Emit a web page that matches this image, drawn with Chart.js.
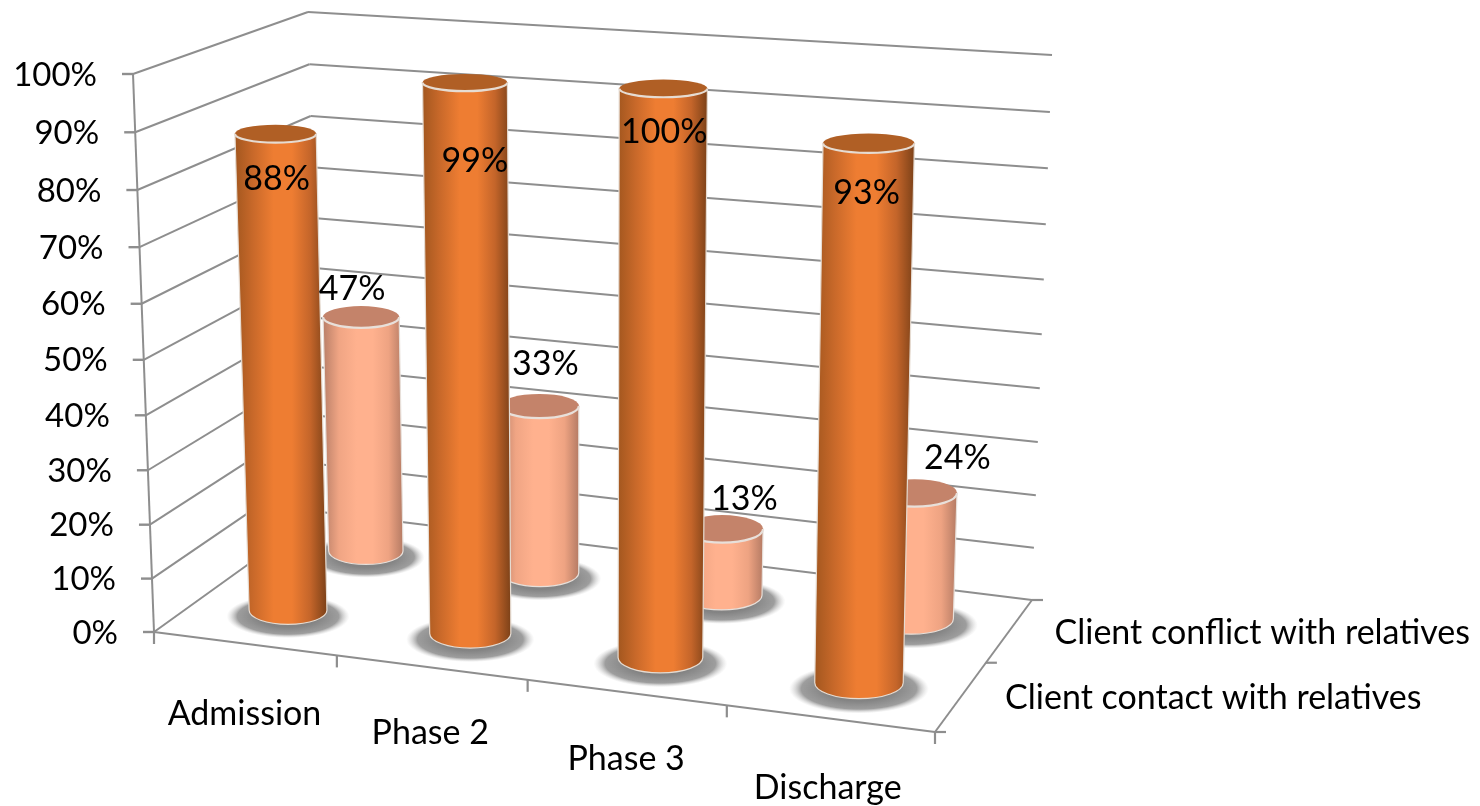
<!DOCTYPE html>
<html>
<head>
<meta charset="utf-8">
<title>Client contact and conflict with relatives</title>
<script src="https://cdn.jsdelivr.net/npm/chart.js@4/dist/chart.umd.min.js"></script>
<style>
    html, body { margin: 0; padding: 0; background: #fff; }
    #wrap { width: 1480px; height: 806px; }
</style>
</head>
<body>
<div id="wrap"><canvas id="cylinderChart"></canvas></div>
<script>
// Chart data
const categories = ['Admission', 'Phase 2', 'Phase 3', 'Discharge'];
const contactValues = [88, 99, 100, 93];
const conflictValues = [47, 33, 13, 24];
const contactName = 'Client contact with relatives';
const conflictName = 'Client conflict with relatives';

const fontFamily = 'Lato, sans-serif';
const fontSize = 34;
const tickFontSize = 33;
const gridColor = '#8e8e8e';

// Corners of the 3D box on screen: front-left, front-right, back-right, back-left
const floorQuad = [[154, 632], [935, 732], [1032, 600], [321, 512]];
const roofQuad = [[133, 74], [947, 122], [1052, 55], [308, 12]];

// Extra perspective along the categories and up the height
const alongWarp = 0.065;
const heightWarp = 0.05;

// Placement of the two rows in the box
const rowDepth = [0.255, 0.745];
const rowHeight = [0.995, 0.985];

// Text nudges relative to the top of each cylinder / axis position
const frontLabelShift = [[1, 45], [10, 79], [1, 44], [-2, 50]];
const backLabelShift = [[-9, -28], [6, -42], [22, -30], [43, -35]];
const categoryLabelShift = [[0, 70], [-1, 66], [0, 67], [-2, 70]];
const seriesLabelShift = [[44, 2], [45, 2]];

// Colours for the two cylinder kinds
const contactLook = {
    stops: ['#a3571f', '#c9692a', '#ee7d32', '#ee7d32', '#c4652a', '#7c4118'],
    lid: '#b05f25',
    rim: '#e6dcd2'
};
const conflictLook = {
    stops: ['#b97f68', '#f0a584', '#ffb18e', '#ffb18e', '#eea382', '#b57b64'],
    lid: '#c4836a',
    rim: '#e8e0da'
};

// Square to quad mapping, used for the floor and roof of the box
function quadMap(q) {
    const [[x0, y0], [x1, y1], [x2, y2], [x3, y3]] = q;
    const dx1 = x1 - x2, dx2 = x3 - x2, sx = x0 - x1 + x2 - x3;
    const dy1 = y1 - y2, dy2 = y3 - y2, sy = y0 - y1 + y2 - y3;
    const den = dx1 * dy2 - dx2 * dy1;
    const g = (sx * dy2 - dx2 * sy) / den;
    const h = (dx1 * sy - sx * dy1) / den;
    const a = x1 - x0 + g * x1, b = x3 - x0 + h * x3;
    const d = y1 - y0 + g * y1, e = y3 - y0 + h * y3;
    return (u, w) => {
        const q2 = g * u + h * w + 1;
        return [(a * u + b * w + x0) / q2, (d * u + e * w + y0) / q2];
    };
}
const floorAt = quadMap(floorQuad);
const roofAt = quadMap(roofQuad);

// u = along categories, depth = front to back, v = height as 0..1
function project(u, depth, v) {
    const uw = u / (1 + alongWarp * (1 - u));
    const vw = v / (1 + heightWarp * (1 - v));
    const f = floorAt(uw, depth);
    const r = roofAt(uw, depth);
    return [f[0] + (r[0] - f[0]) * vw, f[1] + (r[1] - f[1]) * vw];
}

function strokeLine(ctx, a, b, color, width) {
    ctx.strokeStyle = color;
    ctx.lineWidth = width;
    ctx.beginPath();
    ctx.moveTo(a[0], a[1]);
    ctx.lineTo(b[0], b[1]);
    ctx.stroke();
}

function drawBox(chart) {
    const ctx = chart.ctx;
    const yScale = chart.scales.y;
    yScale.ticks.forEach(tick => {
        const v = (yScale.bottom - yScale.getPixelForValue(tick.value)) / yScale.height;
        const front = project(0, 0, v);
        const corner = project(0, 1, v);
        const end = project(1, 1, v);
        strokeLine(ctx, front, corner, gridColor, 2);
        strokeLine(ctx, corner, end, gridColor, 2);
        strokeLine(ctx, [front[0] - 11, front[1]], front, gridColor, 2.4);
    });
    strokeLine(ctx, project(0, 0, 0), project(0, 0, 1), gridColor, 2);

    // floor outline and its ticks
    const fl = project(0, 0, 0), fr = project(1, 0, 0), br = project(1, 1, 0);
    strokeLine(ctx, fl, fr, gridColor, 2);
    strokeLine(ctx, fr, br, gridColor, 2);
    for (let i = 0; i <= categories.length; i++) {
        const p = project(i / categories.length, 0, 0);
        strokeLine(ctx, p, [p[0], p[1] + 12], gridColor, 2.2);
    }
    [0, 0.5, 1].forEach(depth => {
        const p = project(1, depth, 0);
        strokeLine(ctx, p, [p[0] + 11, p[1]], gridColor, 2.2);
    });
}

function drawCylinder(ctx, u, depth, v, look) {
    const step = 0.125;
    const a = project(u, depth, 0);
    const b = project(u, depth, v);
    const span0 = project(u + step, depth, 0)[0] - project(u - step, depth, 0)[0];
    const span1 = project(u + step, depth, v)[0] - project(u - step, depth, v)[0];
    const rx0 = span0 * 0.218, rx1 = span1 * 0.218;
    const ry0 = rx0 * 0.36;
    const ry1 = rx1 * (0.36 - 0.16 * v);

    // ground shadow
    ctx.save();
    ctx.translate(a[0], a[1] + 6);
    ctx.scale(rx0 * 1.58, ry0 * 1.55);
    const shadow = ctx.createRadialGradient(0, 0, 0.5, 0, 0, 1);
    shadow.addColorStop(0, 'rgba(125,125,125,0.95)');
    shadow.addColorStop(0.65, 'rgba(140,140,140,0.85)');
    shadow.addColorStop(1, 'rgba(200,200,200,0)');
    ctx.fillStyle = shadow;
    ctx.beginPath();
    ctx.arc(0, 0, 1, 0, Math.PI * 2);
    ctx.fill();
    ctx.restore();

    // body
    const left = Math.min(a[0] - rx0, b[0] - rx1);
    const right = Math.max(a[0] + rx0, b[0] + rx1);
    const body = ctx.createLinearGradient(left, 0, right, 0);
    const offsets = [0, 0.2, 0.42, 0.62, 0.82, 1];
    look.stops.forEach((c, i) => body.addColorStop(offsets[i], c));
    ctx.fillStyle = body;
    ctx.strokeStyle = look.rim;
    ctx.lineWidth = 1.2;
    ctx.beginPath();
    ctx.moveTo(b[0] - rx1, b[1]);
    ctx.lineTo(a[0] - rx0, a[1]);
    ctx.ellipse(a[0], a[1], rx0, ry0, 0, Math.PI, 0, true);
    ctx.lineTo(b[0] + rx1, b[1]);
    ctx.closePath();
    ctx.fill();
    ctx.stroke();

    // lid with a light rim along its front half
    ctx.fillStyle = look.lid;
    ctx.beginPath();
    ctx.ellipse(b[0], b[1], rx1, ry1, 0, 0, Math.PI * 2);
    ctx.fill();
    ctx.strokeStyle = look.rim;
    ctx.lineWidth = 2.2;
    ctx.beginPath();
    ctx.ellipse(b[0], b[1], rx1, ry1, 0, Math.PI, 0, true);
    ctx.stroke();
}

const cylinderPlugin = {
    id: 'cylinderPlugin',
    // slide the axis labels along the slanted front edge of the box
    afterUpdate(chart) {
        const yScale = chart.scales.y;
        yScale.getLabelItems().forEach((item, i) => {
            const tick = yScale.ticks[i];
            const v = (yScale.bottom - yScale.getPixelForValue(tick.value)) / yScale.height;
            const p = project(0, 0, v);
            item.options.translation[0] = p[0] - 36;
            item.options.translation[1] = p[1] + 1;
        });
    },
    beforeDatasetsDraw(chart) {
        const ctx = chart.ctx;
        const xScale = chart.scales.x;
        const yScale = chart.scales.y;
        const n = chart.data.datasets.length;
        ctx.save();
        drawBox(chart);

        const place = (datasetIndex, i) => {
            const value = chart.data.datasets[datasetIndex].data[i];
            const u = (xScale.getPixelForValue(i) - xScale.left) / xScale.width;
            const v = (yScale.bottom - yScale.getPixelForValue(value)) / yScale.height;
            return { u, v: v * rowHeight[datasetIndex], depth: rowDepth[datasetIndex], value };
        };

        // back row first so the front row covers it
        for (let d = n - 1; d >= 0; d--) {
            const look = d === 0 ? contactLook : conflictLook;
            categories.forEach((_, i) => {
                const p = place(d, i);
                drawCylinder(ctx, p.u, p.depth, p.v, look);
            });
        }

        // value labels
        ctx.fillStyle = '#000';
        ctx.font = fontSize + 'px ' + fontFamily;
        ctx.textAlign = 'center';
        ctx.textBaseline = 'middle';
        for (let d = n - 1; d >= 0; d--) {
            const shift = d === 0 ? frontLabelShift : backLabelShift;
            categories.forEach((_, i) => {
                const p = place(d, i);
                const top = project(p.u, p.depth, p.v);
                ctx.fillText(p.value + '%', top[0] + shift[i][0], top[1] + shift[i][1]);
            });
        }

        // category labels under the front edge
        categories.forEach((name, i) => {
            const u = (xScale.getPixelForValue(i) - xScale.left) / xScale.width;
            const p = project(u, 0, 0);
            ctx.fillText(name, p[0] + categoryLabelShift[i][0], p[1] + categoryLabelShift[i][1]);
        });

        // series labels beside the right floor edge
        ctx.textAlign = 'left';
        chart.data.datasets.forEach((ds, d) => {
            const p = project(1, (d + 0.5) / n, 0);
            ctx.fillText(ds.label, p[0] + seriesLabelShift[d][0], p[1] + seriesLabelShift[d][1]);
        });
        ctx.restore();
        return false; // the cylinders replace the flat bars
    }
};

new Chart(document.getElementById('cylinderChart'), {
    type: 'bar',
    data: {
        labels: categories,
        datasets: [
            { label: contactName, data: contactValues, backgroundColor: '#ee7d32' },
            { label: conflictName, data: conflictValues, backgroundColor: '#ffb18e' }
        ]
    },
    options: {
        responsive: true,
        maintainAspectRatio: false,
        animation: false,
        layout: { padding: { left: 0, top: 75, right: 300, bottom: 174 } },
        plugins: { legend: { display: false }, tooltip: { enabled: false } },
        scales: {
            x: { display: false, offset: true },
            y: {
                min: 0,
                max: 100,
                afterFit(scale) { scale.width = 120; },
                border: { display: false },
                grid: { display: false, drawTicks: false },
                ticks: {
                    stepSize: 10,
                    padding: 0,
                    color: '#000',
                    font: { family: fontFamily, size: tickFontSize },
                    callback: value => value + '%'
                }
            }
        }
    },
    plugins: [cylinderPlugin]
});
</script>
</body>
</html>
